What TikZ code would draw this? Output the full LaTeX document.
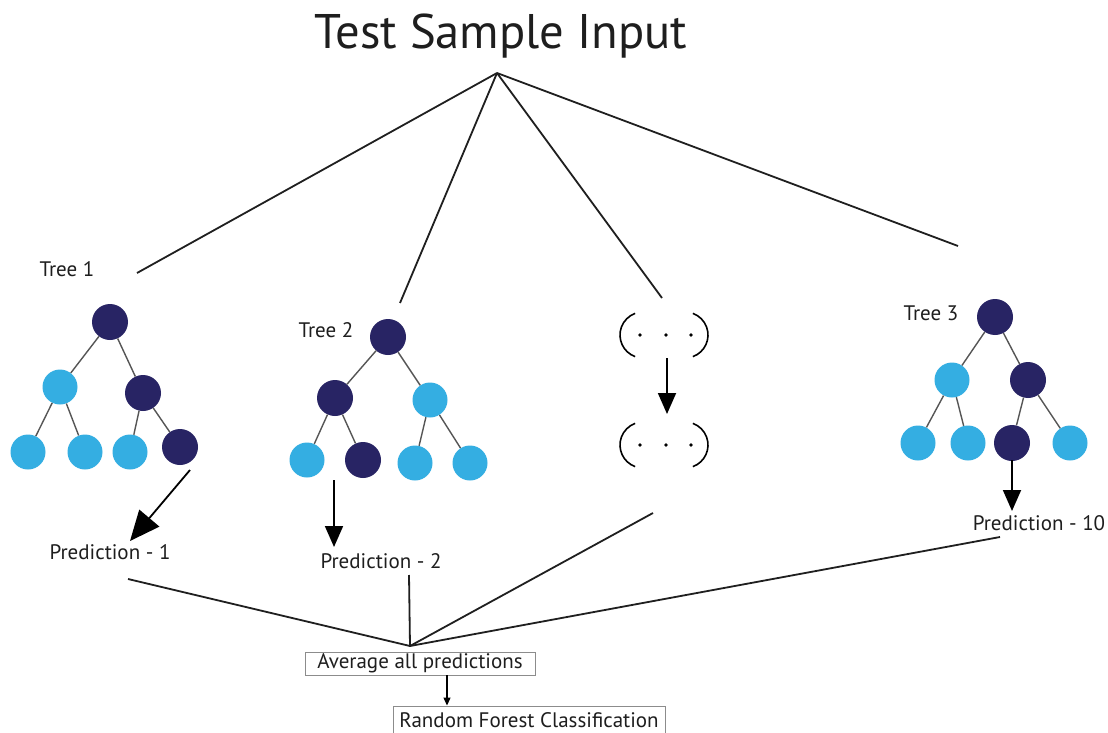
\documentclass[tikz,border=0pt]{standalone}
\usepackage{fontspec}
\setmainfont{PT Sans}
\usetikzlibrary{arrows.meta}
\definecolor{navy}{RGB}{40,36,100}
\definecolor{sky}{RGB}{52,174,226}
\definecolor{edgegray}{RGB}{85,85,85}
\definecolor{boxgray}{RGB}{140,140,140}
\definecolor{ink}{RGB}{30,30,30}

\begin{document}
\begin{tikzpicture}[x=1pt,y=-1pt,
  dk/.style={circle,fill=navy,minimum size=36pt,inner sep=0pt},
  lt/.style={circle,fill=sky,minimum size=35pt,inner sep=0pt},
  edge/.style={draw=edgegray,line width=1.4pt},
  link/.style={draw=black!88,line width=1.8pt},
  lbl/.style={font=\fontsize{21}{24}\selectfont,text=ink,inner sep=0pt},
  outbox/.style={draw=boxgray,line width=0.9pt,font=\fontsize{21}{24}\selectfont,text=ink,inner sep=0pt},
  bigtip/.style={-{Triangle[length=30pt,width=26pt]},line width=1.8pt},
  midtip/.style={-{Triangle[length=21pt,width=18pt]},line width=1.8pt},
  smalltip/.style={-{Triangle[length=8pt,width=7pt]},line width=1.2pt},
  paren/.style={line width=1.6pt}
]
\useasboundingbox (0,0) rectangle (1108,733);
\fill[white] (0,0) rectangle (1108,733);

% title and the point where all branches start
\node[inner sep=0pt,font=\fontsize{48.6}{54}\selectfont,text=ink] (title) at (501,36) {Test Sample Input};
\coordinate (apex) at (497,73);

% branch ends near each tree
\coordinate (b1) at (137,273);
\coordinate (b2) at (400,303);
\coordinate (b3) at (662,298);
\coordinate (b4) at (958,246);
\foreach \e in {b1,b2,b3,b4} \draw[link] (apex) -- (\e);

% ---------- Tree 1 ----------
\node[lbl] (tree1) at (67,269) {Tree 1};
\node[dk] (t1r) at (110,322) {};
\node[lt] (t1a) at (60,387) {};
\node[dk] (t1b) at (143,393) {};
\node[lt] (t1c) at (28,452) {};
\node[lt] (t1d) at (85,452) {};
\node[lt] (t1e) at (130,452) {};
\node[dk] (t1f) at (180,447) {};
\draw[edge] (t1r) -- (t1a); \draw[edge] (t1r) -- (t1b);
\draw[edge] (t1a) -- (t1c); \draw[edge] (t1a) -- (t1d);
\draw[edge] (t1b) -- (t1e); \draw[edge] (t1b) -- (t1f);
\node[lbl] (pred1) at (110,552) {Prediction - 1};
\coordinate (p1s) at (190,470);
\coordinate (p1e) at (130,541);
\draw[bigtip] (p1s) -- (p1e);

% ---------- Tree 2 ----------
\node[lbl] (tree2) at (326,330) {Tree 2};
\node[dk] (t2r) at (388,337) {};
\node[dk] (t2a) at (335,398) {};
\node[lt] (t2b) at (430,400) {};
\node[lt] (t2c) at (307,460) {};
\node[dk] (t2d) at (363,460) {};
\node[lt] (t2e) at (415,463) {};
\node[lt] (t2f) at (470,463) {};
\draw[edge] (t2r) -- (t2a); \draw[edge] (t2r) -- (t2b);
\draw[edge] (t2a) -- (t2c); \draw[edge] (t2a) -- (t2d);
\draw[edge] (t2b) -- (t2e); \draw[edge] (t2b) -- (t2f);
\node[lbl] (pred2) at (381,561) {Prediction - 2};
\coordinate (p2s) at (334,480);
\coordinate (p2e) at (334,547);
\draw[midtip] (p2s) -- (p2e);

% ---------- remaining trees, shown as dots ----------
\foreach \cy/\nm in {335/dotsA,445/dotsB}{
  \coordinate (\nm) at (665,\cy);
  \draw[paren] (643,\cy) ++(110:23) arc[start angle=110,end angle=250,radius=23];
  \draw[paren] (685,\cy) ++(70:23) arc[start angle=70,end angle=-70,radius=23];
  \foreach \dx in {640,666,691} \fill (\dx,\cy) circle[radius=1.9pt];
}
\coordinate (dAs) at (667,358);
\coordinate (dAe) at (667,414);
\draw[midtip] (dAs) -- (dAe);

% ---------- Tree 3 ----------
\node[lbl] (tree3) at (931,313) {Tree 3};
\node[dk] (t3r) at (995,317) {};
\node[lt] (t3a) at (952,380) {};
\node[dk] (t3b) at (1028,380) {};
\node[lt] (t3c) at (918,443) {};
\node[lt] (t3d) at (968,443) {};
\node[dk] (t3e) at (1012,443) {};
\node[lt] (t3f) at (1070,443) {};
\draw[edge] (t3r) -- (t3a); \draw[edge] (t3r) -- (t3b);
\draw[edge] (t3a) -- (t3c); \draw[edge] (t3a) -- (t3d);
\draw[edge] (t3b) -- (t3e); \draw[edge] (t3b) -- (t3f);
\node[lbl] (pred3) at (1039,523) {Prediction - 10};
\coordinate (p3s) at (1012,460);
\coordinate (p3e) at (1012,511);
\draw[midtip] (p3s) -- (p3e);

% ---------- combining the predictions ----------
\coordinate (conv) at (410,646);
\coordinate (c1) at (128,579);
\coordinate (c2) at (409,575);
\coordinate (c3) at (653,513);
\coordinate (c4) at (1000,537);
\foreach \e in {c1,c2,c3,c4} \draw[link] (\e) -- (conv);

\node[outbox,minimum width=230pt,minimum height=23pt] (avg) at (420,663.5) {Average all predictions};
\node[outbox,minimum width=272pt,minimum height=28pt] (rf) at (529,720) {Random Forest Classification};
\draw[smalltip] (avg.south -| 447,0) -- (rf.north -| 447,0);
\end{tikzpicture}
\end{document}
